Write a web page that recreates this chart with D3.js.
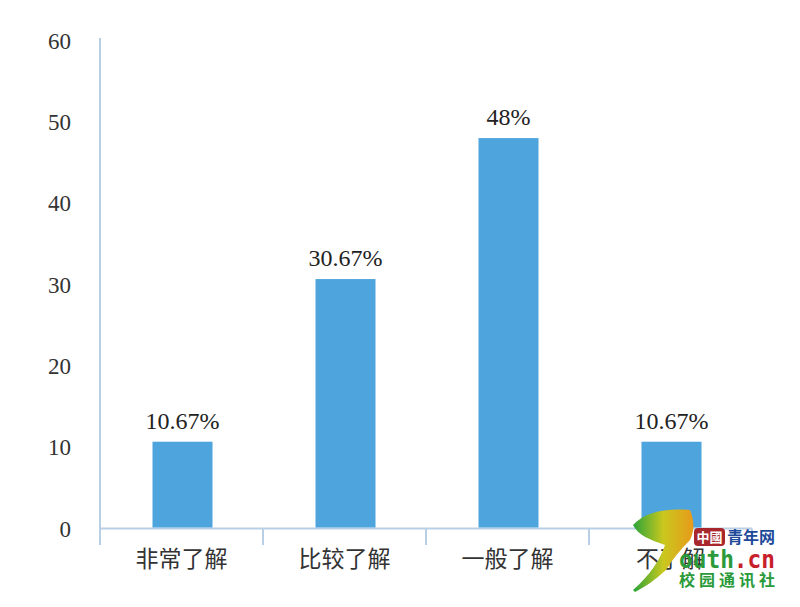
<!DOCTYPE html>
<html><head><meta charset="utf-8">
<script src="https://cdn.jsdelivr.net/npm/d3@7"></script>
<style>body{margin:0;background:#fff}svg{display:block}</style>
</head><body>
<script>
const categories = ["非常了解","比较了解","一般了解","不了解"];
const values = [10.67, 30.67, 48, 10.67];
const valueLabels = ["10.67%","30.67%","48%","10.67%"];
const yTicks = [0,10,20,30,40,50,60];

const W = 800, H = 607;
const svg = d3.select("body").append("svg").attr("width", W).attr("height", H);
const axisColor = "#b9cfe6";
const x = d3.scaleBand().domain(categories).range([100, 752]).paddingInner(0).paddingOuter(0);
const y = d3.scaleLinear().domain([0, 60]).range([528.5, 40.5]);

// y axis line
svg.append("line").attr("x1",100).attr("x2",100).attr("y1",38).attr("y2",545)
  .attr("stroke",axisColor).attr("stroke-width",2);
// x axis baseline
svg.append("line").attr("x1",100).attr("x2",752).attr("y1",y(0)).attr("y2",y(0))
  .attr("stroke",axisColor).attr("stroke-width",2);
// category boundary ticks
const bounds = categories.map(c => x(c)).concat([x.range()[1]]);
svg.selectAll(".bt").data(bounds.slice(1)).enter().append("line")
  .attr("x1",d=>d).attr("x2",d=>d).attr("y1",y(0)).attr("y2",545)
  .attr("stroke",axisColor).attr("stroke-width",2);

// y tick labels
svg.selectAll(".yl").data(yTicks).enter().append("text")
  .attr("x",71).attr("y",d=>y(d)).attr("dy","0.35em").attr("text-anchor","end")
  .attr("font-family","'Liberation Serif', 'Times New Roman', serif").attr("font-size",23)
  .attr("fill","#333").text(d=>d);

// bars
const bw = 60;
svg.selectAll(".bar").data(values).enter().append("rect")
  .attr("x",(d,i)=>x(categories[i])+x.bandwidth()/2-bw/2+1)
  .attr("y",d=>y(d)).attr("width",bw).attr("height",d=>y(0)-y(d)-1)
  .attr("fill","#4ea4dc");

// value labels
svg.selectAll(".vl").data(values).enter().append("text")
  .attr("x",(d,i)=>x(categories[i])+x.bandwidth()/2+1).attr("y",d=>y(d)-13)
  .attr("text-anchor","middle")
  .attr("font-family","'Liberation Serif', 'Times New Roman', serif").attr("font-size",24)
  .attr("fill","#222").text((d,i)=>valueLabels[i]);

// category labels
svg.selectAll(".cl").data(categories).enter().append("text")
  .attr("x",d=>x(d)+x.bandwidth()/2).attr("y",567)
  .attr("text-anchor","middle")
  .attr("font-family","'Noto Sans CJK SC', sans-serif").attr("font-size",23)
  .attr("fill","#333").text(d=>d);

// watermark (approximate)
const wm = svg.append("g");
const defs = svg.append("defs");
const lg = defs.append("linearGradient").attr("id","leaf").attr("x1","0").attr("x2","1").attr("y1","0").attr("y2","0");
lg.append("stop").attr("offset","0").attr("stop-color","#2aa33a");
lg.append("stop").attr("offset","0.5").attr("stop-color","#c9c81e");
lg.append("stop").attr("offset","1").attr("stop-color","#e89a1a");
wm.append("path").attr("d","M633,590 C650,575 660,560 665,545 C650,540 638,535 633,525 C645,512 665,508 690,510 C694,520 695,530 690,540 C680,550 672,560 666,570 C655,580 645,587 635,592 Z")
  .attr("fill","url(#leaf)");
wm.append("rect").attr("x",694).attr("y",528).attr("width",31).attr("height",18).attr("rx",4).attr("fill","#a8272c");
wm.append("text").attr("x",709.5).attr("y",542).attr("text-anchor","middle").attr("font-family","'Noto Sans CJK SC'")
  .attr("font-size",13).attr("font-weight","bold").attr("fill","#fff").text("中國");
wm.append("text").attr("x",727).attr("y",543).attr("font-family","'Noto Sans CJK SC'")
  .attr("font-size",16).attr("font-weight","bold").attr("fill","#1d4a9a").text("青年网");
wm.append("text").attr("x",679).attr("y",568).attr("font-family","'DejaVu Sans Mono', monospace")
  .attr("font-size",25).attr("font-weight","bold").attr("fill","#2a9a3a")
  .attr("textLength",96).attr("lengthAdjust","spacingAndGlyphs")
  .html('outh<tspan fill="#c8202a">.cn</tspan>');
wm.append("text").attr("x",679).attr("y",586).attr("font-family","'Noto Sans CJK SC'")
  .attr("font-size",16).attr("font-weight","bold").attr("fill","#2a9a3a")
  .attr("textLength",96).attr("lengthAdjust","spacing").text("校园通讯社");
</script>
</body></html>
